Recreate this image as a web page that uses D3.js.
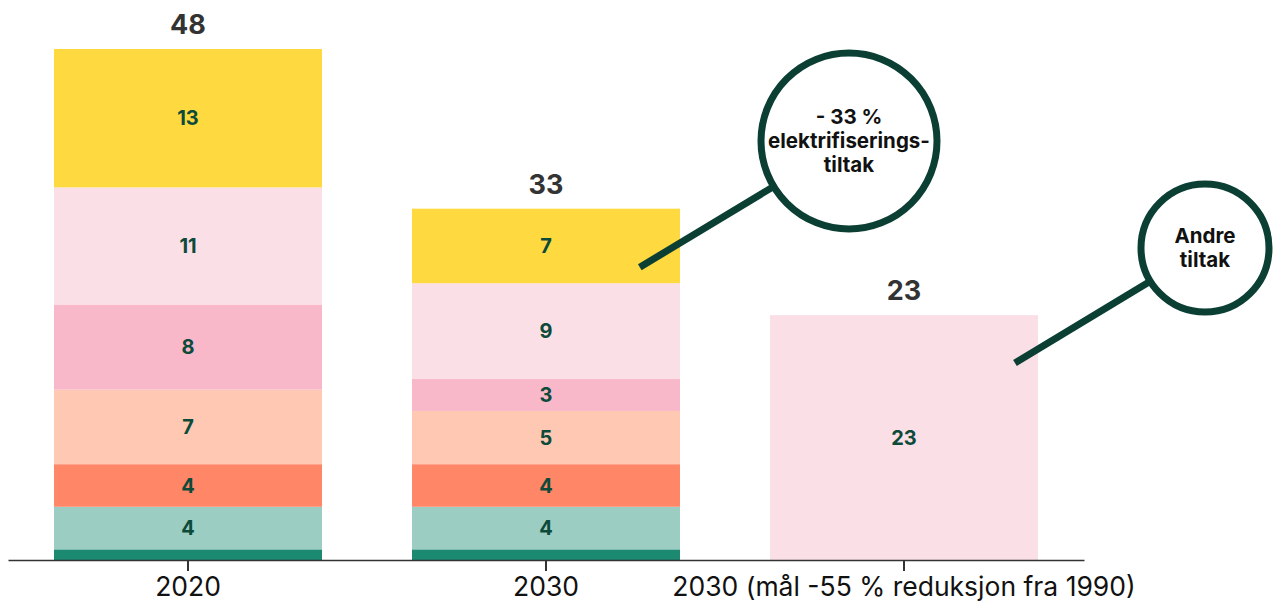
<!DOCTYPE html>
<html>
<head>
<meta charset="utf-8">
<script src="https://cdn.jsdelivr.net/npm/d3@7"></script>
<style>
  body { margin: 0; background: #fff; }
  svg text { font-family: Inter, "Liberation Sans", sans-serif; }
</style>
</head>
<body>
<svg id="chart" width="1280" height="601"></svg>
<script>
// categories and stacked series (bottom -> top)
var categories = ["2020", "2030", "2030 (mål -55 % reduksjon fra 1990)"];
var seriesKeys = ["a", "b", "c", "d", "e", "f", "g"];
var seriesColors = ["#1b8a70", "#9bcdc3", "#ff8667", "#fec8b2", "#f9b8ca", "#fbdfe6", "#fed93f"];
var values2020 = [1, 4, 4, 7, 8, 11, 13];
var values2030 = [1, 4, 4, 5, 3, 9, 7];
var valuesGoal = [0, 0, 0, 0, 0, 23, 0];
var totals = [48, 33, 23];

var callouts = [
  { lines: ["- 33 %", "elektrifiserings-", "tiltak"], cat: 1, at: 0.85, v: 27.5, cx: 849, cy: 141, r: 88 },
  { lines: ["Andre", "tiltak"], cat: 2, at: 0.914, v: 18.5, cx: 1205, cy: 248, r: 64 }
];

var allValues = [values2020, values2030, valuesGoal];
var data = categories.map(function(c, i) {
  var row = { cat: c };
  seriesKeys.forEach(function(k, j) { row[k] = allValues[i][j]; });
  return row;
});

var svg = d3.select("#chart");

var x = d3.scaleBand()
    .domain(categories)
    .range([8, 1084])
    .paddingInner(0.2514)
    .paddingOuter(0.1285);

var y = d3.scaleLinear()
    .domain([0, 48])
    .range([560, 49]);

var color = d3.scaleOrdinal().domain(seriesKeys).range(seriesColors);

var stacked = d3.stack().keys(seriesKeys)(data);

var layers = svg.append("g")
  .selectAll("g")
  .data(stacked)
  .enter().append("g")
    .attr("fill", function(d) { return color(d.key); });

layers.selectAll("rect")
  .data(function(d) { return d.filter(function(p) { return p[1] > p[0]; }); })
  .enter().append("rect")
    .attr("x", function(d) { return x(d.data.cat); })
    .attr("y", function(d) { return y(d[1]); })
    .attr("height", function(d) { return y(d[0]) - y(d[1]); })
    .attr("width", x.bandwidth());

// segment value labels (skip the thin bottom one)
layers.selectAll("text")
  .data(function(d) { return d.filter(function(p) { return p[1] - p[0] > 1; }); })
  .enter().append("text")
    .attr("x", function(d) { return x(d.data.cat) + x.bandwidth() / 2; })
    .attr("y", function(d) { return (y(d[0]) + y(d[1])) / 2; })
    .attr("dy", "0.36em")
    .attr("text-anchor", "middle")
    .attr("fill", "#0c4a3a")
    .attr("font-size", 20)
    .attr("font-weight", 700)
    .text(function(d) { return d[1] - d[0]; });

// totals above bars
svg.append("g")
  .selectAll("text")
  .data(categories)
  .enter().append("text")
    .attr("x", function(d) { return x(d) + x.bandwidth() / 2; })
    .attr("y", function(d, i) { return y(totals[i]) - 15; })
    .attr("text-anchor", "middle")
    .attr("fill", "#333")
    .attr("font-size", 27)
    .attr("font-weight", 700)
    .text(function(d, i) { return totals[i]; });

// x axis
var xAxis = d3.axisBottom(x)
    .tickSizeOuter(0)
    .tickSizeInner(11)
    .tickPadding(6);

var ax = svg.append("g")
    .attr("transform", "translate(0,560)")
    .call(xAxis);
ax.select(".domain").attr("stroke", "#333").attr("stroke-width", 1.5);
ax.selectAll(".tick line").attr("stroke", "#333").attr("stroke-width", 2);
ax.selectAll(".tick text")
    .attr("fill", "#111")
    .attr("font-size", 26.5)
    .attr("font-family", "Inter, 'Liberation Sans', sans-serif");

// callouts
var cg = svg.append("g");
callouts.forEach(function(c) {
  var ax0 = x(categories[c.cat]) + x.bandwidth() * c.at;
  var ay0 = y(c.v);
  var ang = Math.atan2(ay0 - c.cy, ax0 - c.cx);
  cg.append("line")
    .attr("x1", ax0).attr("y1", ay0)
    .attr("x2", c.cx + Math.cos(ang) * c.r)
    .attr("y2", c.cy + Math.sin(ang) * c.r)
    .attr("stroke", "#0b3f33")
    .attr("stroke-width", 7);
  cg.append("circle")
    .attr("cx", c.cx).attr("cy", c.cy).attr("r", c.r)
    .attr("fill", "#fff")
    .attr("stroke", "#0b3f33")
    .attr("stroke-width", 7);
  var n = c.lines.length;
  cg.append("g").selectAll("text")
    .data(c.lines)
    .enter().append("text")
      .attr("x", c.cx)
      .attr("y", function(d, i) { return c.cy + (i - (n - 1) / 2) * 24; })
      .attr("dy", "0.36em")
      .attr("text-anchor", "middle")
      .attr("fill", "#111")
      .attr("font-size", 20.5)
      .attr("font-weight", 700)
      .text(function(d) { return d; });
});
</script>
</body>
</html>
